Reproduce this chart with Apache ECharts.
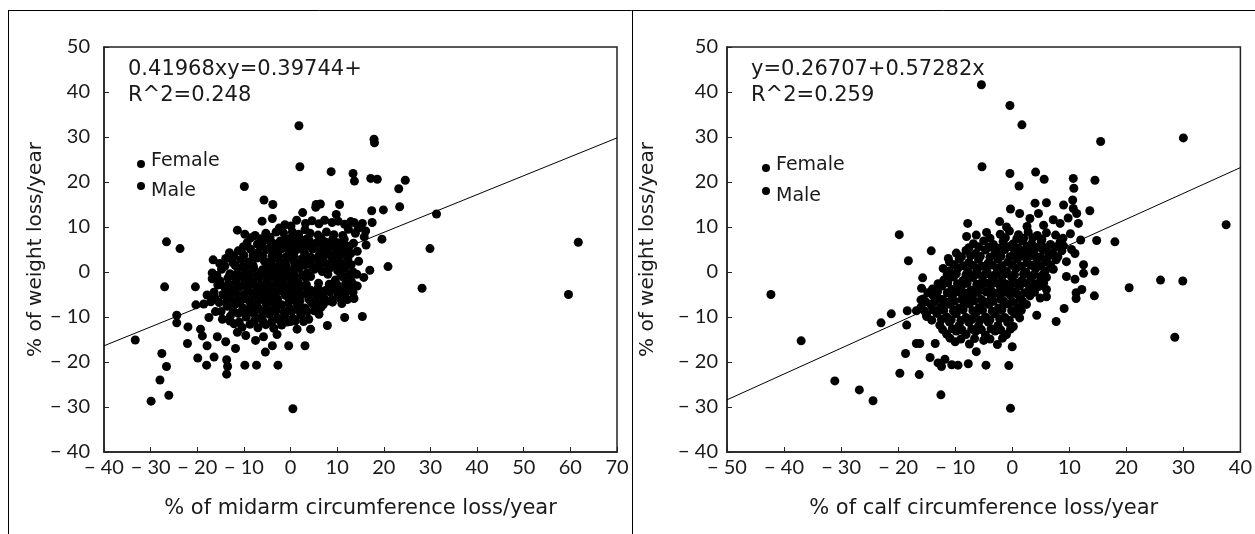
<!DOCTYPE html>
<html><head><meta charset="utf-8">
<script src="https://cdn.jsdelivr.net/npm/echarts@6/dist/echarts.min.js"></script>
<style>html,body{margin:0;padding:0;background:#fff}#c{width:1255px;height:534px}</style>
</head><body><div id="c"></div>
<script>
// ---- data ----
const midarmRange = [-40, 70];
const calfRange = [-50, 40];
const weightRange = [-40, 50];
const leftEquation = ['0.41968xy=0.39744+', 'R^2=0.248'];
const rightEquation = ['y=0.26707+0.57282x', 'R^2=0.259'];
const legendNames = ['Female', 'Male'];
const midarmTitle = '% of midarm circumference loss/year';
const calfTitle = '% of calf circumference loss/year';
const weightTitle = '% of weight loss/year';

const midarmFit = [[-40, -16.4], [70, 29.8]];
const calfFit = [[-50, -28.4], [40, 23.2]];

const midarmWeight = [
[2.6,13.2],[5.5,15],[5.4,14.4],[6.4,15.1],[10.5,15],[9.8,12.8],[-6.1,11.3],[-3.9,11.9],[-5.7,16],[-3.8,15],
[0.1,10.2],[1.3,11.5],[3.2,10.8],[4.6,11.4],[6.1,10.7],[7.3,11.5],[8.9,11.0],[10.2,11.3],[11.6,10.6],[12.9,11.2],[13.6,11],[15.4,10.8],[17.5,11],[-1.2,10.5],[-2.4,9.8],[3.1,9.4],[12.4,9.5],[14.5,9.7],[16.1,9.1],
[-11.4,9.3],[-9.8,8.4],[-7.6,8.1],[-5.3,8.6],[-3.1,8.9],[-1.5,8.7],[0.4,8.9],[1.7,8.4],[4.2,8.6],[5.9,8.2],[7.7,8.9],[9.3,8.3],[11.2,8.1],[13.9,8.6],[15.8,7.8],[19.6,7.3],
[-9.3,6.5],[-7.1,6.2],[-5.4,7.1],[-3.8,6.4],[-2.2,6.9],[-0.6,6.1],[0.9,6.7],[2.5,6.3],[4.0,7.0],[5.5,6.4],[7.2,6.8],[8.4,6.0],[10.1,6.5],[11.8,5.9],[13.5,6.4],[16.2,6.0],
[-13.1,4.3],[-11.2,4.7],[-8.6,5.1],[-6.9,4.4],[-5.1,5.0],[-3.5,4.6],[-1.8,5.2],[-0.2,4.4],[1.4,5.0],[3.0,4.3],[4.7,5.1],[6.3,4.5],[8.0,4.9],[9.7,4.2],[11.3,4.8],[12.9,4.1],[14.3,4.6],
[-16.6,2.7],[-13.9,3.0],[-15.2,1.9],[-12.4,2.1],[-10.6,2.8],[-8.9,2.2],[-7.2,3.1],[-5.6,2.4],[-3.9,2.9],[-2.3,2.2],[-0.7,3.0],[0.8,2.3],[2.4,2.9],[4.1,2.1],[5.8,2.7],[7.4,2.0],[9.0,2.8],[10.6,2.2],[12.3,2.9],[14.6,2.4],
[-16.8,-0.2],[-14.8,0.6],[-13.0,-0.4],[-11.3,0.9],[-9.6,0.1],[-7.9,0.8],[-6.3,-0.1],[-4.6,0.7],[-3.0,0.0],[-1.4,0.9],[0.2,0.2],[1.8,0.8],[3.5,-0.3],[5.1,0.6],[6.8,0.1],[8.4,0.9],[10.1,0.3],[11.7,0.8],[13.4,0.0],[17,0.4],[20.9,1.2],
[-16.8,-1.5],[-15.1,-2.0],[-13.4,-1.3],[-11.7,-2.1],[-10.0,-1.4],[-8.4,-2.2],[-6.7,-1.2],[-5.0,-2.0],[-3.4,-1.3],[-1.7,-2.1],[-0.1,-1.4],[1.6,-2.2],[3.2,-1.2],[9.6,-1.8],[11.3,-1.1],[13.0,-2.0],[15.7,-1.2],
[-14.2,-3.3],[-12.5,-4.0],[-10.8,-3.2],[-9.1,-3.9],[-7.4,-3.1],[-5.8,-3.8],[-4.1,-3.2],[-2.5,-4.1],[-0.8,-3.3],[0.9,-3.9],[2.5,-3.1],[4.2,-4.0],[5.9,-3.6],[7.5,-4.1],[9.2,-3.4],[10.9,-4.0],[12.6,-3.3],[14.3,-3.1],[-20.4,-3.3],[-27,-3.3],
[-17.9,-5.1],[-16.2,-5.8],[-14.5,-5.0],[-12.8,-5.9],[-11.1,-5.2],[-9.5,-6.0],[-7.8,-5.1],[-6.1,-5.9],[-4.4,-5.2],[-2.8,-6.0],[-1.1,-5.2],[0.6,-5.9],[2.2,-5.1],[3.9,-6.0],[5.6,-5.3],[7.2,-5.9],[8.9,-6.1],[10.6,-5.8],[12.2,-6.1],[13.6,-5.9],
[-18.6,-7.1],[-20.3,-7.3],[-16.1,-8.8],[-13.6,-7.6],[-11.9,-7.2],[-10.2,-8.0],[-8.5,-7.3],[-6.9,-8.1],[-5.2,-7.2],[-3.5,-8.0],[-1.9,-7.3],[-0.2,-8.1],[1.5,-7.4],[3.1,-8.0],[4.8,-7.2],[6.5,-7.9],
[-17.5,-10.1],[-14.6,-10.5],[-12.9,-9.8],[-11.2,-9.2],[-9.5,-10.0],[-7.8,-9.3],[-6.2,-10.1],[-4.5,-9.4],[-2.8,-10.2],[-1.2,-9.5],[0.5,-10.3],[2.2,-9.6],[3.9,-10.5],[6.1,-9.4],[11.6,-10.1],[15.4,-9.9],[-24.4,-9.6],
[-24.4,-11.3],[-22,-12.2],[-19.3,-12.7],[-12.1,-11.5],[-10.4,-12.3],[-8.7,-11.6],[-7.0,-12.4],[-5.3,-11.7],[-3.6,-12.5],[-1.9,-11.8],[1.4,-12.7],[4.3,-12.7],[7.9,-11.9],[-11.4,-13.4],[-9.6,-14.1],[-2.9,-13.9],[-18.9,-14.2],
[-22.1,-15.9],[-17.9,-16.4],[-15.7,-14.4],[-13.9,-15.5],[-11.8,-17],[-5.8,-14.4],[-5.4,-17.8],[-3.9,-16.4],[-0.4,-16.4],[3.1,-16.4],[-7.5,-15.2],[-33.3,-15.1],
[-27.6,-18.1],[-26.6,-21],[-28,-24],[-26.1,-27.4],[-29.9,-28.7],[-13.7,-19.5],[-13.5,-21],[-13.7,-22.7],[-18,-20.7],[-19.9,-19.1],[-16.4,-18.9],[-2.7,-20.7],[-7.3,-20.7],[-9.8,-20.7],[0.5,-30.4],
[1.8,32.5],[17.9,29.5],[18,28.7],[2,23.4],[8.7,22.3],[13.4,21.9],[13.7,20.2],[17.2,20.8],[18.6,20.6],[24.6,20.4],[23.2,18.5],[-9.9,19],[23.4,14.5],[19.9,13.8],[17.4,13.6],[31.3,12.9],[-26.6,6.7],[-23.7,5.2],[29.9,5.2],[28.2,-3.6],[61.7,6.6],[59.6,-5],
[-9,-8.5],[-7,-6.5],[-5,-4.5],[-3,-2.5],[-1,-0.5],[1,1.5],[3,3.5],[5,5.5],[-8,-2.5],[-6,0.5],[-4,3.5],[-2,5.5],[0,7.5],[2,-6.5],[4,-4.5],[6,-2.5],[8,-0.5],[-10,-5],[-8,4],[6,3.5],[8,6.5],[2,-8.8],[0,-11],[-4,-11],[-6,-8.8],[-1,-4.5],[1,-2.8],[3,1.5],[-2,1.4],[-7,-4.4],[-9,1.6],[-11,-0.8],[-12,-6.6],[9,-6.7],[11,-7],[-3,-7.2],[7,-7.3],
[-8.5,7.6],[-6.3,7.4],[-4.4,7.7],[-1.2,7.5],[1.8,7.7],[3.4,7.3],[6.5,7.6],[9.1,7.4],[11.5,7.3],
[-10.1,5.6],[-6.1,5.8],[-4.3,5.5],[-2.9,5.8],[-1.1,5.6],[0.6,5.8],[2.2,5.5],[3.8,5.9],[6.9,5.6],[9.3,5.7],[10.9,5.4],[12.6,5.7],
[-12.2,3.5],[-10.0,3.7],[-8.0,3.4],[-6.0,3.6],[-2.6,3.7],[-0.9,3.4],[0.7,3.6],[4.3,3.3],[7.2,3.6],[8.9,3.4],[10.5,3.7],[12.1,3.4],
[-14.1,1.3],[-11.9,1.5],[-10.2,1.2],[-8.0,1.4],[-5.0,1.6],[-3.7,1.2],[-0.9,1.4],[2.2,1.5],[4.6,1.3],[6.2,1.6],[8.1,1.3],[9.8,1.5],[11.4,1.4],[13.0,1.6],
[-15.8,-0.8],[-12.2,-0.7],[-10.6,-0.9],[-8.9,-0.6],[-7.3,-0.9],[-5.4,-0.6],[-3.9,-0.8],[-2.2,-0.6],[0.9,-0.8],[2.6,-0.7],[4.3,-1.0],[10.8,-0.6],[12.5,-0.8],[14.2,-0.5],
[-15.6,-2.9],[-13.3,-2.7],[-11.5,-2.9],[-9.9,-2.6],[-6.4,-2.8],[-4.7,-2.7],[-1.5,-2.9],[0.2,-2.6],[3.4,-2.8],[8.3,-2.7],[10.0,-2.9],[11.8,-2.6],[13.5,-2.8],
[-16.4,-4.5],[-13.6,-4.6],[-11.9,-4.4],[-8.2,-4.7],[-6.5,-4.5],[-3.3,-4.7],[-1.6,-4.4],[0.1,-4.7],[1.7,-4.5],[3.3,-4.8],[5.0,-4.5],[6.7,-4.7],[8.4,-4.4],[10.1,-4.8],[11.8,-4.6],[13.4,-4.5],
[-17.1,-6.6],[-15.3,-6.8],[-13.7,-6.5],[-10.9,-6.7],[-8.7,-6.6],[-7.2,-6.8],[-5.4,-6.5],[-3.8,-6.6],[-0.4,-6.8],[1.2,-6.4],[4.4,-6.6],[6.0,-6.8],[7.7,-6.5],
[-14.9,-8.8],[-12.3,-8.7],[-10.6,-8.9],[-8.0,-8.6],[-4.7,-8.8],[-3.1,-8.6],[-1.4,-8.9],[0.3,-8.7],[3.6,-8.8],[5.1,-8.6],
[-13.0,-10.9],[-11.0,-11.1],[-7.7,-10.8],[-5.9,-11.0],[-2.3,-10.8],[-0.7,-11.1],[1.0,-10.9],[2.8,-11.0]
];

const calfWeight = [
[-5.4,41.6],[-0.4,37],[1.7,32.7],[15.5,29],[30,29.8],[-5.3,23.4],[-0.4,21.9],[4.1,22.2],[5.6,20.6],[1.2,19.1],[10.7,20.8],[10.8,18.6],[14.5,20.4],[-0.3,14],[13.6,13.6],[-19.8,8.3],[-14.2,4.7],[-18.2,2.5],[18,6.7],[14.8,7],[20.5,-3.5],[26,-1.8],[29.9,-2],[28.5,-14.5],[37.5,10.5],[-42.3,-5],[-37,-15.3],[-23,-11.3],[-21.2,-9.3],[-31.1,-24.2],[-26.8,-26.2],[-24.4,-28.6],[-12.5,-27.3],[-0.3,-30.3],[-19.7,-22.5],[-16.3,-22.8],[-18.7,-18.1],[-16.8,-15.9],[-16.2,-15.9],[-13.5,-15.9],[-14.4,-19],[-13,-20.2],[-11.8,-19.4],[-10.6,-20.6],[-12.4,-21],[-9.5,-20.7],[-7.7,-20.4],[-4.6,-20.7],[-0.6,-20.8],[-6.3,-17.7],[0,-16.6],[4.3,-9.6],[7.7,-11],[9.1,-8.1],[6,-5.5],[11.2,-4.6],[11.2,-5.9],[14.4,-5.3],[12.2,-3.9],[14.5,0.2],[12.5,1.6],[12.5,-0.3],[9.5,2.3],[9.5,-1],[11,-1.6],[10.4,5],[11,4.1],[12,7.1],[-7.8,10.8],[-8,7.9],[-11.2,3],[-12.1,0.8],[-15.7,-1.3],[-15.9,-3.6],[-16,-6.2],[-18.4,-8.6],[-16.8,-8.6],[-18.5,-11.8],[-15,-9.6],[-13.9,-8.4],[-12.9,-5.9],
[4,15.3],[6,15.4],[9,14.9],[10.6,16],[10.7,14.1],[11.3,13],[11.6,10.8],[7.2,11.6],[8.4,10.8],[4.6,13],[1.3,13],[3.1,11.9],[-2.2,11.2],[-1,10],[2.6,10.1],[5.5,10.4],[9.8,12],
[-6.3,8.2],[-4.5,8.8],[-2.1,8.4],[-0.5,9.1],[1.1,8.3],[2.8,8.9],[4.4,8.1],[6.0,8.7],[7.6,8.2],[10.2,8.5],
[-6.8,6.3],[-5.0,6.9],[-3.3,6.1],[-1.6,6.8],[0.1,6.2],[1.8,6.9],[3.4,6.3],[5.1,6.8],[6.7,6.1],[8.4,6.7],[9.0,5.8],
[-9.8,4.2],[-8.1,4.8],[-6.4,4.1],[-4.7,4.9],[-3.0,4.3],[-1.3,5.0],[0.4,4.2],[2.1,4.8],[3.8,4.1],[5.4,4.9],[7.1,4.2],[8.7,4.7],
[-11,2.2],[-9.3,2.9],[-7.6,2.1],[-5.9,2.8],[-4.2,2.0],[-2.5,2.9],[-0.8,2.2],[0.9,2.8],[2.6,2.1],[4.3,2.9],[6.0,2.2],[7.7,2.7],
[-11,0.2],[-9.5,0.9],[-7.8,0.1],[-6.1,0.8],[-4.4,0.0],[-2.7,0.9],[-1.0,0.1],[0.7,0.8],[2.4,0.0],[4.1,0.7],[5.8,0.2],[7.2,0.6],
[-12,-1.8],[-10.3,-1.1],[-8.6,-1.9],[-6.9,-1.2],[-5.2,-2.0],[-3.5,-1.1],[-1.8,-1.9],[-0.1,-1.2],[1.6,-2.0],[3.3,-1.1],[5.0,-1.8],[6.0,-1.2],
[-14,-3.8],[-12.3,-3.1],[-10.6,-3.9],[-8.9,-3.2],[-7.2,-4.0],[-5.5,-3.1],[-3.8,-3.9],[-2.1,-3.2],[-0.4,-4.0],[1.3,-3.1],[3.0,-3.9],[4.7,-3.2],[6,-3.9],
[-15.6,-6.0],[-13.9,-5.2],[-12.2,-6.1],[-10.5,-5.3],[-8.8,-6.0],[-7.1,-5.2],[-5.4,-6.1],[-3.7,-5.3],[-2.0,-6.0],[-0.3,-5.2],[1.4,-6.0],[3.1,-5.3],[4.9,-5.8],
[-16,-7.8],[-14.3,-7.1],[-12.6,-7.9],[-10.9,-7.2],[-9.2,-8.0],[-7.5,-7.1],[-5.8,-7.9],[-4.1,-7.2],[-2.4,-8.0],[-0.7,-7.1],[1.0,-7.9],[2.5,-7.2],
[-15,-9.9],[-13.2,-9.2],[-11.5,-10.0],[-9.8,-9.3],[-8.1,-10.1],[-6.4,-9.2],[-4.7,-10.0],[-3.0,-9.3],[-1.3,-10.1],[0.4,-9.3],[1.3,-10.2],
[-12.7,-11.8],[-11.0,-11.1],[-9.3,-11.9],[-7.6,-11.2],[-5.9,-12.0],[-4.2,-11.1],[-2.5,-11.9],[-0.8,-11.2],[0.2,-12.1],
[-11.5,-13.8],[-9.8,-13.1],[-8.1,-13.9],[-6.4,-13.2],[-4.7,-14.0],[-3.0,-13.1],[-1.0,-13.9],
[-10.0,-15.5],[-7.5,-16.0],[-5.0,-15.2],[-2.6,-16.1],
[-8,-6.5],[-6,-4.5],[-4,-2.5],[-2,-0.5],[0,1.5],[2,3.5],[4,5.5],[-6,-8.5],[-4,-6.5],[-2,-4.5],[0,-2.5],[2,-0.5],[4,1.5],[-10,-8.5],[-8,-2.5],[-6,-0.5],[-4,1.5],[-2,3.5],[0,5.5],[2,7.5],[-1,-7],[1,-5],[3,-3],[5,-1],[-3,-9],[-7,-10.5],[-9,-4.6],[-11,-6.6],[3,5.2],[5,3.3],
[-3.9,7.5],[-1.2,7.6],[0.8,7.4],[3.6,7.6],[5.2,7.3],[8.9,7.5],
[-7.6,5.4],[-5.9,5.6],[-4.1,5.5],[-2.4,5.3],[-0.7,5.6],[1.0,5.4],[2.6,5.7],[4.3,5.5],[6.0,5.4],[7.7,5.6],
[-8.9,3.4],[-7.3,3.6],[-5.6,3.5],[-3.9,3.3],[-2.2,3.6],[-0.4,3.4],[1.3,3.7],[3.0,3.5],[4.7,3.3],[6.4,3.6],[8.0,3.4],
[-10.2,1.6],[-8.6,1.4],[-6.9,1.5],[-5.2,1.3],[-3.5,1.6],[-1.8,1.4],[-0.1,1.6],[1.6,1.3],[3.3,1.5],[5.0,1.4],[6.7,1.6],
[-11.4,-0.6],[-9.8,-0.4],[-8.1,-0.6],[-6.4,-0.3],[-4.7,-0.5],[-3.0,-0.6],[-1.3,-0.4],[0.4,-0.6],[2.1,-0.4],[3.8,-0.6],[5.5,-0.4],
[-13.0,-2.6],[-11.3,-2.4],[-9.6,-2.6],[-7.9,-2.4],[-6.2,-2.7],[-4.5,-2.5],[-2.8,-2.4],[-1.1,-2.7],[0.6,-2.5],[2.3,-2.4],[4.0,-2.6],[5.5,-2.5],
[-14.8,-4.6],[-13.1,-4.4],[-11.4,-4.6],[-9.7,-4.4],[-8.0,-4.7],[-6.3,-4.5],[-4.6,-4.4],[-2.9,-4.7],[-1.2,-4.5],[0.5,-4.4],[2.2,-4.6],[3.9,-4.5],
[-15.2,-6.6],[-13.5,-6.4],[-11.8,-6.6],[-10.1,-6.5],[-8.4,-6.7],[-6.7,-6.4],[-5.0,-6.6],[-3.3,-6.5],[-1.6,-6.4],[0.1,-6.7],[1.8,-6.5],
[-15.4,-8.6],[-12.0,-8.5],[-10.3,-8.7],[-8.6,-8.4],[-6.9,-8.6],[-5.2,-8.5],[-3.5,-8.7],[-1.8,-8.4],[-0.1,-8.6],[1.6,-8.5],
[-14.1,-10.7],[-12.4,-10.5],[-10.7,-10.6],[-9.0,-10.8],[-7.3,-10.5],[-5.6,-10.7],[-3.9,-10.6],[-2.2,-10.4],[-0.5,-10.7],
[-12.2,-12.8],[-10.5,-12.6],[-8.8,-12.9],[-7.1,-12.7],[-5.4,-12.8],[-3.7,-12.6],[-2.0,-12.9],[-0.3,-12.7],
[-10.9,-14.7],[-9.0,-14.9],[-6.6,-14.8],[-3.9,-14.9],[-1.7,-14.7]
];

// ---- chart ----
const FONT = '"DejaVu Sans"';
const TICKFONT = 'Lato';
const INK = '#1a1a1a';
function tickFmt(v) { return v < 0 ? '\u2212 ' + (-v) : String(v); }

const axisLineCfg = { show: true, onZero: false, lineStyle: { color: '#222', width: 1.5 } };
const tickCfg = { show: true, inside: true, length: 5, lineStyle: { color: '#222', width: 1 } };

function xAxisCfg(idx, range, title) {
  return {
    type: 'value', gridIndex: idx, min: range[0], max: range[1], interval: 10,
    axisLine: axisLineCfg, axisTick: tickCfg, splitLine: { show: false },
    axisLabel: { margin: 6, fontFamily: TICKFONT, fontSize: 20, color: INK, formatter: tickFmt },
    name: title, nameLocation: 'middle', nameGap: 46,
    nameTextStyle: { fontFamily: FONT, fontSize: 21, color: INK }
  };
}
function yAxisCfg(idx, range, gap, lblMargin) {
  return {
    type: 'value', gridIndex: idx, min: range[0], max: range[1], interval: 10,
    axisLine: axisLineCfg, axisTick: tickCfg, splitLine: { show: false },
    axisLabel: { margin: lblMargin, fontFamily: TICKFONT, fontSize: 20, color: INK, formatter: tickFmt },
    name: weightTitle, nameLocation: 'middle', nameGap: gap, nameRotate: 90,
    nameTextStyle: { fontFamily: FONT, fontSize: 20, color: INK }
  };
}

const chart = echarts.init(document.getElementById('c'), null, { renderer: 'canvas' });

function legendGraphic(x, y1, y2) {
  return [
    { type: 'circle', left: x - 4, top: y1 - 4, shape: { r: 4 }, style: { fill: '#000' } },
    { type: 'circle', left: x - 4, top: y2 - 4, shape: { r: 4 }, style: { fill: '#000' } },
    { type: 'text', left: x + 10, top: y1 - 12, style: { text: legendNames[0], font: '19px ' + FONT, fill: INK } },
    { type: 'text', left: x + 10, top: y2 - 4, style: { text: legendNames[1], font: '19px ' + FONT, fill: INK } }
  ];
}
function eqGraphic(x, eq) {
  return [
    { type: 'text', left: x, top: 59, style: { text: eq[0], font: '21px ' + FONT, fill: INK } },
    { type: 'text', left: x, top: 85, style: { text: eq[1], font: '21px ' + FONT, fill: INK } }
  ];
}

chart.setOption({
  animation: false,
  backgroundColor: '#fff',
  grid: [
    { left: 104, top: 47, width: 513, height: 405, show: true, borderColor: '#222', borderWidth: 1.5, backgroundColor: 'transparent' },
    { left: 727, top: 47, width: 516, height: 405, show: true, borderColor: '#222', borderWidth: 1.5, backgroundColor: 'transparent' }
  ],
  xAxis: [xAxisCfg(0, midarmRange, midarmTitle), xAxisCfg(1, calfRange, calfTitle)],
  yAxis: [yAxisCfg(0, weightRange, 50, 14), yAxisCfg(1, weightRange, 69, 9)],
  series: [
    { type: 'scatter', xAxisIndex: 0, yAxisIndex: 0, data: midarmWeight, symbolSize: 9, itemStyle: { color: '#000', opacity: 1 }, silent: true },
    { type: 'line', xAxisIndex: 0, yAxisIndex: 0, data: midarmFit, symbol: 'none', lineStyle: { color: '#000', width: 1 }, silent: true },
    { type: 'scatter', xAxisIndex: 1, yAxisIndex: 1, data: calfWeight, symbolSize: 9, itemStyle: { color: '#000', opacity: 1 }, silent: true },
    { type: 'line', xAxisIndex: 1, yAxisIndex: 1, data: calfFit, symbol: 'none', lineStyle: { color: '#000', width: 1 }, silent: true }
  ],
  graphic: [
    { type: 'line', shape: { x1: 8, y1: 10.5, x2: 1255, y2: 10.5 }, style: { stroke: '#000', lineWidth: 1 } },
    { type: 'line', shape: { x1: 8.5, y1: 10, x2: 8.5, y2: 534 }, style: { stroke: '#000', lineWidth: 1 } },
    { type: 'line', shape: { x1: 632.5, y1: 10, x2: 632.5, y2: 534 }, style: { stroke: '#000', lineWidth: 1 } }
  ].concat(eqGraphic(128, leftEquation), eqGraphic(751, rightEquation),
           legendGraphic(141, 164, 186), legendGraphic(766, 168, 191))
});
</script>
</body></html>
